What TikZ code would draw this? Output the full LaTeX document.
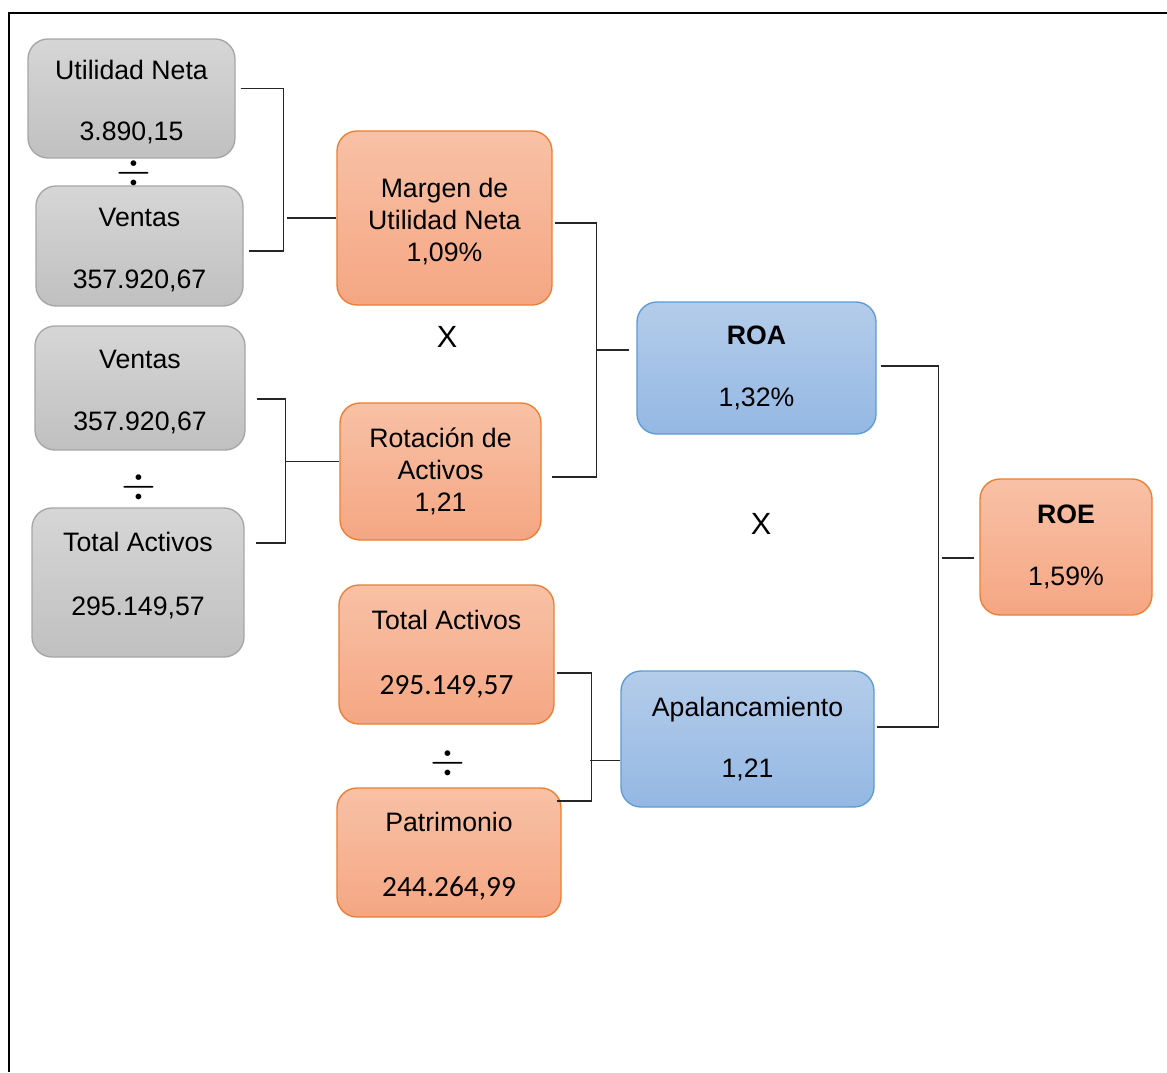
\documentclass[tikz,border=0pt]{standalone}
\usepackage{fontspec}
\usepackage{graphicx}
\setmainfont{Liberation Sans}
\newfontfamily\calibri{Carlito}
\usetikzlibrary{positioning}
\definecolor{grisA}{RGB}{214,214,214}
\definecolor{grisB}{RGB}{192,192,192}
\definecolor{grisborde}{RGB}{166,166,166}
\definecolor{naranjaA}{RGB}{248,193,166}
\definecolor{naranjaB}{RGB}{245,166,131}
\definecolor{naranjaborde}{RGB}{237,125,49}
\definecolor{azulA}{RGB}{180,204,234}
\definecolor{azulB}{RGB}{148,184,227}
\definecolor{azulborde}{RGB}{91,155,213}
\newcommand{\alto}{\rule{0pt}{20pt}}
\newcommand{\entre}{\raisebox{0pt}[16.5pt][0pt]{\scalebox{1.35}{$\div$}}}

\begin{document}
\begin{tikzpicture}[x=0.75pt, y=-0.75pt,
    caja/.style={rounded corners=15pt, line width=1pt, inner sep=0pt, align=center,
      font=\fontsize{20}{24}\selectfont},
    tam/.style 2 args={minimum width=#1*0.75pt, minimum height=#2*0.75pt},
    gris/.style={caja, draw=grisborde, top color=grisA, bottom color=grisB},
    naranja/.style={caja, draw=naranjaborde, top color=naranjaA, bottom color=naranjaB},
    azul/.style={caja, draw=azulborde, top color=azulA, bottom color=azulB},
    linea/.style={line width=1.1pt, black!85},
    signo/.style={inner sep=0pt, font=\fontsize{23}{24}\selectfont}]
  \useasboundingbox (0,0) rectangle (1167,1072);
  % Marco
  \draw[line width=2.2pt] (9,1072) -- (9,13) -- (1167,13);
  % Columna izquierda
  \node[gris, tam={207}{119}] (un) at (131.5,98.5) {\alto Utilidad Neta\\[22pt]3.890,15};
  \node[gris, tam={207}{120}] (v1) at (139.5,246) {\alto Ventas\\[22pt]357.920,67};
  \node[gris, tam={210}{124}] (v2) at (140,388) {\alto Ventas\\[22pt]357.920,67};
  \node[gris, tam={212}{149}] (ta1) at (138,582.5) {\alto Total Activos\\[24pt]295.149,57\rule[-19pt]{0pt}{0pt}};
  \node[signo] (d1) at (134,173) {\entre};
  \node[signo] (d2) at (139,487) {\entre};
  % Columna central
  \node[naranja, tam={215}{174}] (mun) at (444.5,218) {\alto Margen de\\Utilidad Neta\\1,09\%};
  \node[naranja, tam={201}{137}] (ra) at (440.5,471.5) {Rotación de\\Activos\\1,21};
  \node[signo] (x1) at (447,337) {X};
  \node[naranja, tam={215}{139}] (ta2) at (446.5,654.5)
    {Total Activos\\[25pt]{\calibri\fontsize{22}{24}\selectfont 295.149,57}};
  \node[naranja, tam={224}{129}] (pat) at (449,852.5)
    {\alto Patrimonio\\[25pt]{\calibri\fontsize{22}{24}\selectfont 244.264,99}};
  \node[signo] (d3) at (448,763) {\entre};
  % Indicadores
  \node[azul, tam={239}{132}] (roa) at (756.5,368) {\textbf{ROA}\\[22pt]1,32\%};
  \node[azul, tam={253}{136}] (apa) at (747.5,739) {Apalancamiento\\[22pt]1,21};
  \node[signo] (x2) at (761,524) {X};
  \node[naranja, tam={172}{136}] (roe) at (1066,547) {\textbf{ROE}\\[22pt]1,59\%};
  % Llaves
  \draw[linea] ([shift={(5,-10)}]un.east) -| ([shift={(40,5)}]v1.east) -- ([shift={(5,5)}]v1.east);
  \draw[linea] (mun.west) -- ++(-49,0);
  \draw[linea] ([shift={(11,11)}]v2.east) -| ([shift={(41,-39.5)}]ta1.east) -- ([shift={(11,-39.5)}]ta1.east);
  \draw[linea] ([yshift=7.5]ra.west) -- ++(-53,0);
  \draw[linea] ([shift={(2,5)}]mun.east) -| ([shift={(55,5.5)}]ra.east) -- ([shift={(10,5.5)}]ra.east);
  \draw[linea] ([shift={(-7,-18)}]roa.west) -- ++(-32,0);
  \draw[linea] ([shift={(4,-2)}]roa.east) -| ([shift={(64,-12)}]apa.east) -- ([shift={(2,-12)}]apa.east);
  \draw[linea] ([shift={(-5,11)}]roe.west) -- ++(-32,0);
  \draw[linea] ([shift={(2,18.5)}]ta2.east) -| ([shift={(30,-51.5)}]pat.east) -- ([shift={(-5,-51.5)}]pat.east);
  \draw[linea] ([yshift=-16]apa.west) -- ++(-30,0);
\end{tikzpicture}
\end{document}
